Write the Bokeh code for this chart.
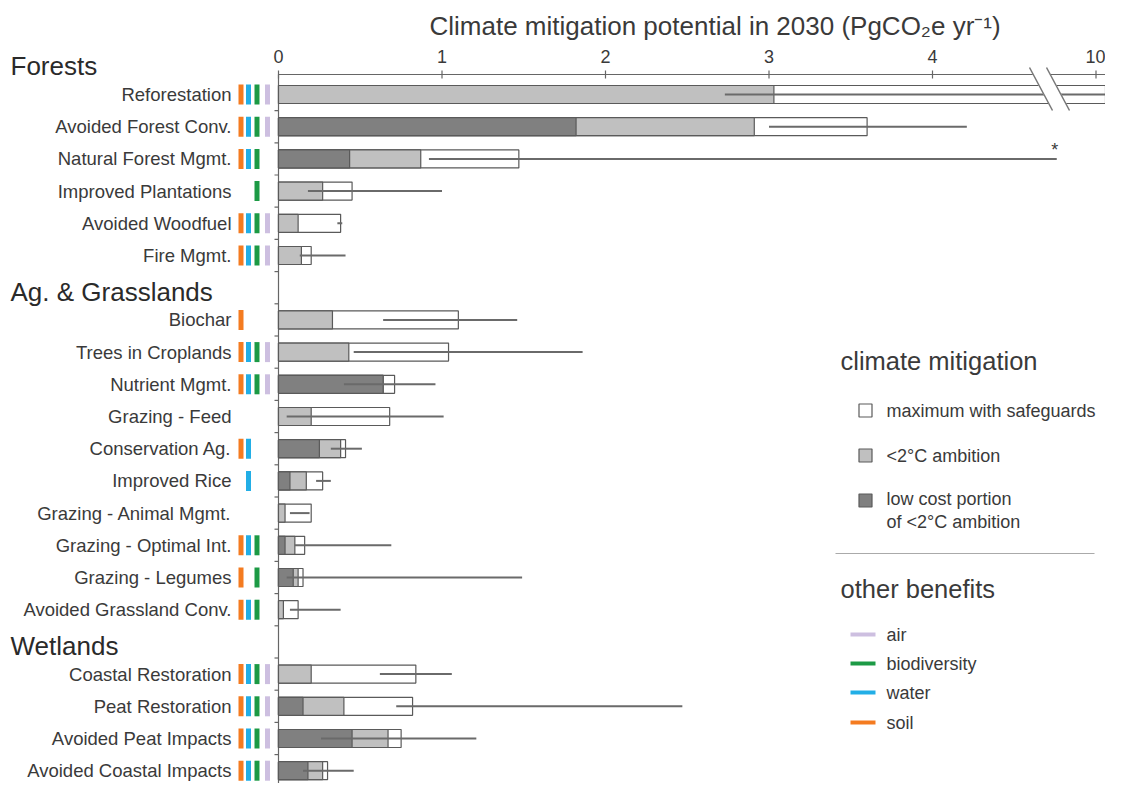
import numpy as np
from bokeh.plotting import figure
from bokeh.models import Range1d, FixedTicker, ColumnDataSource
from bokeh.core.properties import value
from bokeh.embed import file_html
from bokeh.resources import INLINE

# ---------------- data ----------------
sections = ["Forests", "Ag. & Grasslands", "Wetlands"]
pathways = ["Reforestation", "Avoided Forest Conv.", "Natural Forest Mgmt.",
            "Improved Plantations", "Avoided Woodfuel", "Fire Mgmt.",
            "Biochar", "Trees in Croplands", "Nutrient Mgmt.", "Grazing - Feed",
            "Conservation Ag.", "Improved Rice", "Grazing - Animal Mgmt.",
            "Grazing - Optimal Int.", "Grazing - Legumes", "Avoided Grassland Conv.",
            "Coastal Restoration", "Peat Restoration", "Avoided Peat Impacts",
            "Avoided Coastal Impacts"]
section_idx = [0] * 6 + [1] * 10 + [2] * 4
low_cost = [0, 1.82, 0.435, 0, 0, 0, 0, 0, 0.64, 0, 0.25, 0.07, 0, 0.04, 0.09, 0,
            0, 0.15, 0.45, 0.18]
ambition = [3.03, 2.91, 0.87, 0.27, 0.12, 0.14, 0.33, 0.43, 0.64, 0.20, 0.38, 0.17,
            0.04, 0.10, 0.12, 0.03, 0.20, 0.40, 0.67, 0.27]
maximum = [10.12, 3.60, 1.47, 0.45, 0.38, 0.20, 1.10, 1.04, 0.71, 0.68, 0.41, 0.27,
           0.20, 0.16, 0.15, 0.12, 0.84, 0.82, 0.75, 0.30]
err_low = [2.73, 3.00, 0.92, 0.18, 0.36, 0.13, 0.64, 0.46, 0.40, 0.05, 0.32, 0.23,
           0.07, 0.10, 0.05, 0.07, 0.62, 0.72, 0.26, 0.15]
err_high = [17.87, 4.21, 4.76, 1.00, 0.39, 0.41, 1.46, 1.86, 0.96, 1.01, 0.51, 0.32,
            0.19, 0.69, 1.49, 0.38, 1.06, 2.47, 1.21, 0.46]
truncated = [0, 0, 1, 0, 0, 0, 0, 0, 0, 0, 0, 0, 0, 0, 0, 0, 0, 0, 0, 0]
soil =         [1, 1, 1, 0, 1, 1, 1, 1, 1, 0, 1, 0, 0, 1, 1, 1, 1, 1, 1, 1]
water =        [1, 1, 1, 0, 1, 1, 0, 1, 1, 0, 1, 1, 0, 1, 0, 1, 1, 1, 1, 1]
biodiversity = [1, 1, 1, 1, 1, 1, 0, 1, 1, 0, 0, 0, 0, 1, 1, 1, 1, 1, 1, 1]
air =          [1, 1, 0, 0, 1, 1, 0, 1, 1, 0, 0, 0, 0, 0, 0, 0, 1, 1, 1, 1]
tick_values = [0, 1, 2, 3, 4, 10]

# ---------------- layout helpers ----------------
W, H = 1105, 783
PXU = 163.5          # px per PgCO2e
S = 32.2             # px per row slot
FRAME_TOP = 56       # canvas px
ZERO_X = 278         # canvas px of x = 0
ROW0 = 94            # canvas px of first row centre
AXIS_Y = 74          # canvas px of the top axis line
Y_TOP = (ROW0 - FRAME_TOP) / S
DX, DY = 8, 10       # offset between reference picture and canvas

BREAK_AT, BREAK_RESUME, BREAK_POS, BREAK_SCALE = 4.8, 10.0, 5.0, 1.0


def xt(v):
    v = np.asarray(v, dtype=float)
    return np.where(v <= BREAK_AT, v, BREAK_POS + (v - BREAK_RESUME) * BREAK_SCALE)


def px(xref):
    return (xref - DX - ZERO_X) / PXU


def py(yref):
    return Y_TOP - (yref - DY - FRAME_TOP) / S


FNAME = "Liberation Sans"
FONT = value(FNAME)
TXT = "#3a3a3a"
AXC = "#666666"

n = len(pathways)
slot = np.arange(n) + np.array(section_idx)
ys = -slot.astype(float)

x_start = -ZERO_X / PXU
x_end = (W - ZERO_X) / PXU
y_bottom = Y_TOP - (H - FRAME_TOP) / S

p = figure(width=W, height=H, x_range=Range1d(x_start, x_end),
           y_range=Range1d(y_bottom, Y_TOP), output_backend="svg",
           toolbar_location=None, x_axis_location="above", y_axis_location=None,
           min_border_left=0, min_border_right=0, min_border_bottom=0,
           min_border_top=FRAME_TOP)
p.outline_line_color = None
p.xgrid.visible = False
p.ygrid.visible = False
p.background_fill_color = "white"

ax = p.xaxis[0]
tv = xt(tick_values)
ax.ticker = FixedTicker(ticks=[float(t) for t in tv])
ax.major_label_overrides = {float(t): str(v) for t, v in zip(tv, tick_values)}
ax.axis_line_color = None
ax.major_tick_line_color = None
ax.minor_tick_line_color = None
ax.major_tick_in = 0
ax.major_tick_out = 0
ax.major_label_standoff = -6
ax.major_label_text_font = FNAME
ax.major_label_text_font_size = "18px"
ax.major_label_text_color = TXT

p.title.text = "Climate mitigation potential in 2030 (PgCO\u2082e yr\u207b\u00b9)"
p.title.align = "left"
p.title.offset = 429
p.title.standoff = 8
p.title.vertical_align = "top"
p.title.text_font = FNAME
p.title.text_font_size = "26px"
p.title.text_font_style = "normal"
p.title.text_color = TXT

# axis lines and ticks (tick positions from the tick values through the scale)
y_axis_line = Y_TOP - (AXIS_Y - FRAME_TOP) / S
p.segment(x0=[0], x1=[x_end + 1], y0=[y_axis_line], y1=[y_axis_line],
          line_color=AXC, line_width=1.2)
p.segment(x0=tv, x1=tv, y0=np.full(len(tv), y_axis_line + 4 / S),
          y1=np.full(len(tv), y_axis_line - 4 / S), line_color=AXC, line_width=1.2)
p.segment(x0=[0], x1=[0], y0=[y_axis_line], y1=[y_bottom - 1],
          line_color=AXC, line_width=1.2)
bnd = -(np.arange(0, 22) + 0.5)
p.segment(x0=np.full(len(bnd), -4 / PXU), x1=np.zeros(len(bnd)), y0=bnd, y1=bnd,
          line_color=AXC, line_width=1.2)

# bars
src = ColumnDataSource(dict(y=ys, mx=xt(maximum), el=xt(err_low), eh=xt(err_high)))
BH = 18 / S
OUT = "#5a5a5a"
p.hbar(y="y", left=0, right="mx", height=BH, source=src, fill_color="white",
       line_color=OUT, line_width=1.2)
m_amb = np.array(ambition) > 0
p.hbar(y=ys[m_amb], left=0, right=xt(np.array(ambition)[m_amb]), height=BH,
       fill_color="#c0c0c0", line_color=OUT, line_width=1.2)
m_low = np.array(low_cost) > 0
p.hbar(y=ys[m_low], left=0, right=xt(np.array(low_cost)[m_low]), height=BH,
       fill_color="#808080", line_color=OUT, line_width=1.2)
p.segment(x0="el", x1="eh", y0="y", y1="y", source=src, line_color="#6a6a6a",
          line_width=2)

# truncated marker
m_tr = np.array(truncated) == 1
p.text(x=xt(np.array(err_high)[m_tr]) - 2 / PXU, y=ys[m_tr] + 9 / S, text=["*"],
       text_font=FONT, text_font_size="18px", text_color=TXT,
       text_align="center", text_baseline="middle")

# axis break
bx = [px(1036), px(1054), px(1078), px(1060)]
by = [py(76), py(76), py(121), py(121)]
p.patch(bx, by, fill_color="white", line_color=None)
p.line([px(1037), px(1060)], [py(77), py(120)], line_color="#777777", line_width=1.5)
p.line([px(1054), px(1077)], [py(77), py(120)], line_color="#777777", line_width=1.5)

# row labels
p.text(x=np.full(n, px(239)), y=ys, text=pathways, text_align="right",
       text_baseline="middle", text_font=FONT, text_font_size="18.5px",
       text_color=TXT)

# section headers
hdr_slot = [int(slot[section_idx.index(k)]) - 1 for k in range(len(sections))]
p.text(x=np.full(len(sections), px(18)), y=-np.array(hdr_slot, float) - 4 / S,
       text=sections, text_align="left", text_baseline="middle", text_font=FONT,
       text_font_size="26px", text_color="#2a2a2a")

# benefit markers
ben = [("soil", soil, "#f47b20", 248.5), ("water", water, "#22aee6", 256),
       ("biodiversity", biodiversity, "#1c9a45", 264.5), ("air", air, "#cdbfe0", 275)]
for name, flags, col, xc in ben:
    m = np.array(flags) == 1
    p.rect(x=np.full(int(m.sum()), px(xc)), y=ys[m], width=5 / PXU, height=20 / S,
           fill_color=col, line_color=None)

# legend
p.text(x=[px(848)], y=[py(370)], text=["climate mitigation"], text_font=FONT,
       text_font_size="25.5px", text_color=TXT, text_baseline="middle")
for yy, col in [(420, "white"), (465, "#c0c0c0"), (510, "#808080")]:
    p.rect(x=[px(873)], y=[py(yy)], width=13 / PXU, height=13 / S,
           fill_color=col, line_color=OUT, line_width=1.2)
p.text(x=[px(894)] * 4, y=[py(420), py(465), py(508), py(531)],
       text=["maximum with safeguards", "<2°C ambition", "low cost portion",
             "of <2°C ambition"],
       text_font=FONT, text_font_size="18px", text_color=TXT,
       text_baseline="middle")
p.segment(x0=[px(843)], x1=[px(1102)], y0=[py(563)], y1=[py(563)],
          line_color="#aaaaaa", line_width=1.2)
p.text(x=[px(848)], y=[py(598)], text=["other benefits"], text_font=FONT,
       text_font_size="25.5px", text_color=TXT, text_baseline="middle")
for (name, flags, col, xc), yy in zip(ben[::-1], [644, 673, 702, 732]):
    p.segment(x0=[px(858)], x1=[px(883)], y0=[py(yy)], y1=[py(yy)],
              line_color=col, line_width=4)
    p.text(x=[px(894)], y=[py(yy)], text=[name], text_font=FONT,
           text_font_size="18px", text_color=TXT, text_baseline="middle")

open("out.html", "w").write(file_html(p, INLINE))
